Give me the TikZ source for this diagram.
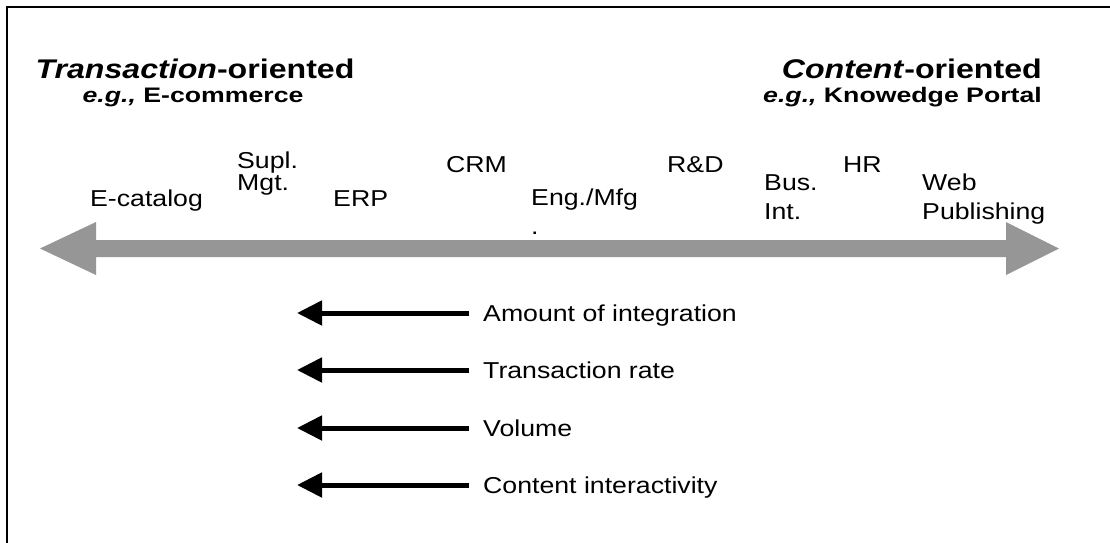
\documentclass[tikz,border=0pt]{standalone}
\usepackage{fontspec}
\setmainfont{Liberation Sans}
\newfontfamily\itemfont{Liberation Sans}[FakeStretch=1.16]
\newfontfamily\titlefont{Liberation Sans}[FakeStretch=1.19]
\newfontfamily\exfont{Liberation Sans}[FakeStretch=1.27]
\usetikzlibrary{arrows.meta,calc}
\definecolor{axisgray}{RGB}{150,150,150}
\begin{document}
\begin{tikzpicture}[x=1pt,y=-1pt,
  title/.style={inner sep=0pt,font=\titlefont\fontsize{27}{31}\selectfont\bfseries},
  example/.style={inner sep=0pt,font=\exfont\fontsize{21}{25}\selectfont\bfseries},
  item/.style={inner sep=0pt,anchor=base west,align=left,font=\itemfont\fontsize{23}{29}\selectfont},
  tight/.style={font=\itemfont\fontsize{23}{22}\selectfont},
  factor/.style={inner ysep=0pt,inner xsep=14pt,anchor=west,text height=16.5pt,text depth=0pt,font=\itemfont\fontsize{23}{27}\selectfont},
  trend/.style={line width=5pt,-{Triangle[length=25pt,width=24pt]}}]
\useasboundingbox (0,0) rectangle (1110,542);
\fill[white] (0,0) rectangle (1110,542);
\draw[line width=2pt] (7,543) -- (7,7) -- (1111,7);
% headings
\node[title,anchor=base] (th) at (195,78) {\textit{Transaction}-oriented};
\node[example,anchor=base] (te) at (193,102) {\textit{e.g.,} E-commerce};
\node[title,anchor=base east] (ch) at (1042,78) {\textit{Content}-oriented};
\node[example,anchor=base east] (ce) at (1042,102) {\textit{e.g.,} Knowedge Portal};
% big double arrow
\coordinate (L) at (40,248.5);
\coordinate (R) at (1059,248.5);
\fill[axisgray] (L) -- ++(56,-26.5) -- ++(0,18) -- ($(R)+(-53,-8.5)$) -- ++(0,-18) -- (R)
  -- ++(-53,26.5) -- ++(0,-18) -- ($(L)+(56,8.5)$) -- ++(0,18) -- cycle;
% items (base anchor = baseline of the last line)
\node[item] (ecat) at (90,206) {E-catalog};
\node[item,tight] (supl) at (237,190) {Supl.\\Mgt.};
\node[item] (erp) at (333,206) {ERP};
\node[item] (crm) at (446,172) {CRM};
\node[item] (eng) at (531,234) {Eng./Mfg\\.};
\node[item] (rd) at (667,172) {R\&D};
\node[item] (bus) at (764,219) {Bus.\\Int.};
\node[item] (hr) at (843,172) {HR};
\node[item] (web) at (922,219) {Web\\Publishing};
% factors
\node[factor] (f1) at (469,313) {Amount of integration};
\node[factor] (f2) at (469,370) {Transaction rate};
\node[factor] (f3) at (469,428) {Volume};
\node[factor] (f4) at (469,485) {Content interactivity};
\coordinate (t1) at (297,313);
\coordinate (t2) at (297,370);
\coordinate (t3) at (297,428);
\coordinate (t4) at (297,485);
\draw[trend] (f1.west) -- (t1);
\draw[trend] (f2.west) -- (t2);
\draw[trend] (f3.west) -- (t3);
\draw[trend] (f4.west) -- (t4);
\end{tikzpicture}
\end{document}
